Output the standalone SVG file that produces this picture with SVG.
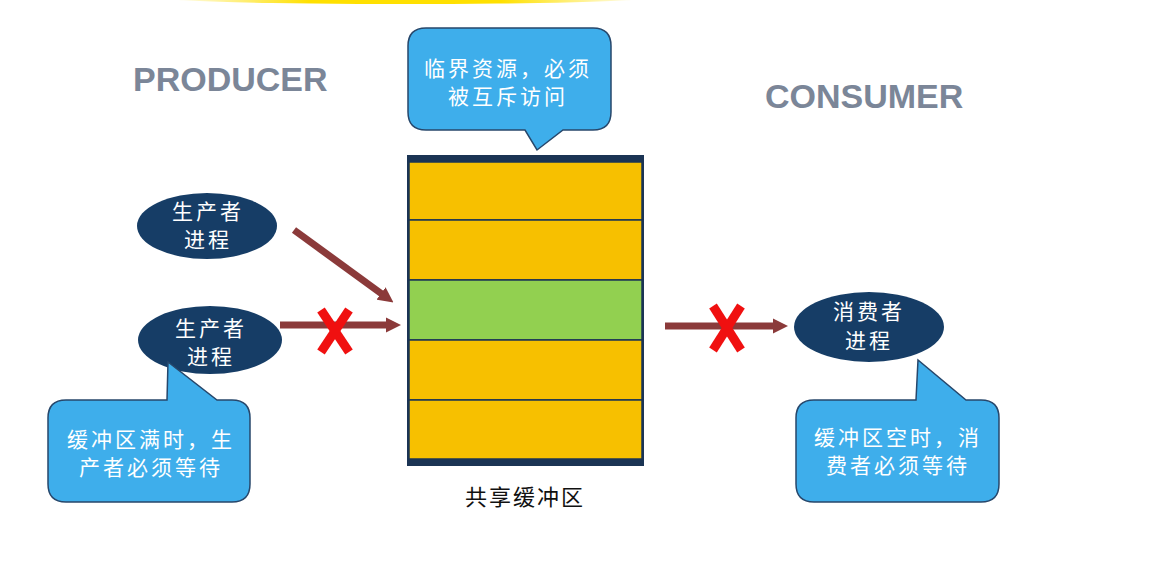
<svg xmlns="http://www.w3.org/2000/svg" width="1160" height="571" viewBox="0 0 1160 571">
<defs>
<style>
.title{font-family:"Liberation Sans",Arial,sans-serif;font-weight:bold;font-size:34px;fill:#7b8698;}
.cj{font-family:"Noto Sans CJK SC","Noto Sans",sans-serif;font-size:21px;letter-spacing:3px;fill:#ffffff;text-anchor:middle;}
.lbl{font-family:"Noto Sans CJK SC","Noto Sans",sans-serif;font-size:22px;letter-spacing:2px;fill:#111;text-anchor:middle;}
.bubble{fill:#3eaeeb;stroke:#27476b;stroke-width:1.5;}
.node{fill:#163d66;}
.arr{stroke:#8b3a3a;stroke-width:7;fill:none;marker-end:url(#ah);}
.x{stroke:#f01010;stroke-width:9;stroke-linecap:butt;}
.row{fill:#f7c000;stroke:#1b3454;stroke-width:1.5;}
</style>
<marker id="ah" viewBox="0 0 10 10" refX="4" refY="5" markerWidth="2.2" markerHeight="2.2" orient="auto" markerUnits="strokeWidth">
<path d="M0,0 L10,5 L0,10 z" fill="#8b3a3a"/>
</marker>
<linearGradient id="glow" x1="0" y1="0" x2="1" y2="0">
<stop offset="0" stop-color="#ffe000" stop-opacity="0"/>
<stop offset="0.3" stop-color="#ffe000" stop-opacity="1"/>
<stop offset="0.7" stop-color="#ffe000" stop-opacity="1"/>
<stop offset="1" stop-color="#ffe000" stop-opacity="0"/>
</linearGradient>
</defs>
<rect width="1160" height="571" fill="#ffffff"/>
<ellipse cx="405" cy="-2" rx="240" ry="6" fill="url(#glow)"/>

<text class="title" x="133" y="91">PRODUCER</text>
<text class="title" x="765" y="108">CONSUMER</text>

<g id="buffer">
<rect x="407" y="155" width="237" height="311" fill="#1b3454"/>
<rect class="row" x="409" y="162" width="233" height="58"/>
<rect class="row" x="409" y="220" width="233" height="60"/>
<rect x="409" y="280" width="233" height="60" fill="#92d050" stroke="#1b3454" stroke-width="1.5"/>
<rect class="row" x="409" y="340" width="233" height="60"/>
<rect class="row" x="409" y="400" width="233" height="59"/>
<text class="lbl" x="525" y="505">共享缓冲区</text>
</g>

<g id="callout-top">
<path class="bubble" d="M426,28 H593 Q611,28 611,46 V112 Q611,130 593,130 H563 L537,150 L525,130 H426 Q408,130 408,112 V46 Q408,28 426,28 Z"/>
<text class="cj" x="508" y="76">临界资源，必须</text>
<text class="cj" x="508" y="104">被互斥访问</text>
</g>

<g id="producer1">
<ellipse class="node" cx="207" cy="226" rx="70" ry="33"/>
<text class="cj" x="208" y="219">生产者</text>
<text class="cj" x="208" y="247">进程</text>
</g>

<g id="producer2">
<ellipse class="node" cx="210" cy="340" rx="72" ry="34"/>
<text class="cj" x="211" y="336">生产者</text>
<text class="cj" x="211" y="364">进程</text>
</g>

<g id="consumer">
<ellipse class="node" cx="869" cy="327" rx="75" ry="35"/>
<text class="cj" x="869" y="319">消费者</text>
<text class="cj" x="869" y="348">进程</text>
</g>

<g id="callout-producer">
<path class="bubble" d="M66,400 H167 L168,362 L217,400 H232 Q250,400 250,418 V484 Q250,502 232,502 H66 Q48,502 48,484 V418 Q48,400 66,400 Z"/>
<text class="cj" x="151" y="447">缓冲区满时，生</text>
<text class="cj" x="151" y="475">产者必须等待</text>
</g>

<g id="callout-consumer">
<path class="bubble" d="M814,400 H916 L918,360 L966,400 H981 Q999,400 999,418 V484 Q999,502 981,502 H814 Q796,502 796,484 V418 Q796,400 814,400 Z"/>
<text class="cj" x="898" y="445">缓冲区空时，消</text>
<text class="cj" x="898" y="473">费者必须等待</text>
</g>

<g id="connectors">
<line class="arr" x1="294" y1="230" x2="386" y2="297"/>
<line class="arr" x1="280" y1="325" x2="392" y2="325"/>
<line class="arr" x1="665" y1="326" x2="779" y2="326"/>
<line class="x" x1="321" y1="310" x2="349" y2="352"/>
<line class="x" x1="349" y1="310" x2="321" y2="352"/>
<line class="x" x1="713" y1="306" x2="741" y2="350"/>
<line class="x" x1="741" y1="306" x2="713" y2="350"/>
</g>
</svg>
